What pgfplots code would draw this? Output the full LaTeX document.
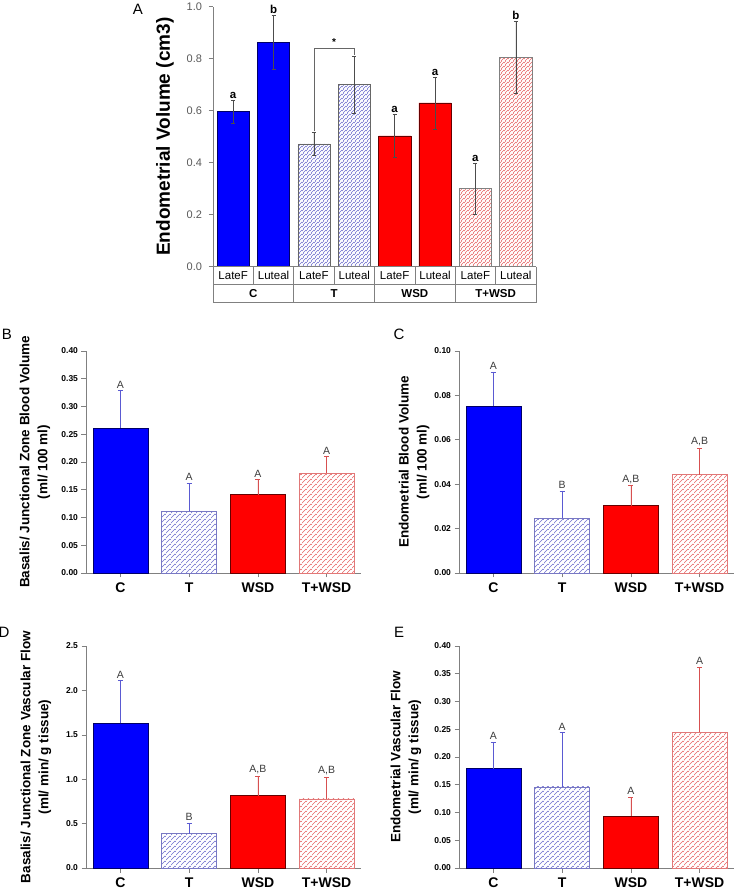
\documentclass[border=0pt]{standalone}
\usepackage{fontspec}
\setmainfont{Liberation Sans}
\usepackage{pgfplots}
\pgfplotsset{compat=1.18}
\usetikzlibrary{patterns.meta}

\definecolor{cblue}{RGB}{0,0,255}
\definecolor{cred}{RGB}{255,0,0}
\definecolor{tline}{RGB}{110,110,205}
\definecolor{tedge}{RGB}{120,120,195}
\definecolor{pline}{RGB}{230,100,100}
\definecolor{pedge}{RGB}{225,120,120}
\definecolor{axgray}{RGB}{128,128,128}
\definecolor{ebblue}{RGB}{90,90,210}
\definecolor{ebred}{RGB}{215,80,80}
\definecolor{lettgray}{RGB}{60,60,60}

% colored hatch patterns (lines going up to the right)
\pgfdeclarepattern{
  name=thatchbig, type=colored,
  bottom left={\pgfpoint{0pt}{0pt}}, top right={\pgfpoint{5.4pt}{5.4pt}},
  tile size={\pgfpoint{5.4pt}{5.4pt}},
  code={\pgfsetcolor{tline}\pgfsetlinewidth{0.6pt}
    \pgfpathmoveto{\pgfpoint{-1pt}{-1pt}}\pgfpathlineto{\pgfpoint{6.4pt}{6.4pt}}
    \pgfpathmoveto{\pgfpoint{-1pt}{4.4pt}}\pgfpathlineto{\pgfpoint{1pt}{6.4pt}}
    \pgfpathmoveto{\pgfpoint{4.4pt}{-1pt}}\pgfpathlineto{\pgfpoint{6.4pt}{1pt}}
    \pgfusepath{stroke}}
}
\pgfdeclarepattern{
  name=phatchbig, type=colored,
  bottom left={\pgfpoint{0pt}{0pt}}, top right={\pgfpoint{5.4pt}{5.4pt}},
  tile size={\pgfpoint{5.4pt}{5.4pt}},
  code={\pgfsetcolor{pline}\pgfsetlinewidth{0.6pt}
    \pgfpathmoveto{\pgfpoint{-1pt}{-1pt}}\pgfpathlineto{\pgfpoint{6.4pt}{6.4pt}}
    \pgfpathmoveto{\pgfpoint{-1pt}{4.4pt}}\pgfpathlineto{\pgfpoint{1pt}{6.4pt}}
    \pgfpathmoveto{\pgfpoint{4.4pt}{-1pt}}\pgfpathlineto{\pgfpoint{6.4pt}{1pt}}
    \pgfusepath{stroke}}
}
\pgfdeclarepattern{
  name=thatchsmall, type=colored,
  bottom left={\pgfpoint{0pt}{0pt}}, top right={\pgfpoint{3.6pt}{3.6pt}},
  tile size={\pgfpoint{3.6pt}{3.6pt}},
  code={\pgfsetcolor{tline}\pgfsetlinewidth{0.6pt}
    \pgfpathmoveto{\pgfpoint{-1pt}{-1pt}}\pgfpathlineto{\pgfpoint{4.6pt}{4.6pt}}
    \pgfpathmoveto{\pgfpoint{-1pt}{2.6pt}}\pgfpathlineto{\pgfpoint{1pt}{4.6pt}}
    \pgfpathmoveto{\pgfpoint{2.6pt}{-1pt}}\pgfpathlineto{\pgfpoint{4.6pt}{1pt}}
    \pgfusepath{stroke}}
}
\pgfdeclarepattern{
  name=phatchsmall, type=colored,
  bottom left={\pgfpoint{0pt}{0pt}}, top right={\pgfpoint{3.6pt}{3.6pt}},
  tile size={\pgfpoint{3.6pt}{3.6pt}},
  code={\pgfsetcolor{pline}\pgfsetlinewidth{0.6pt}
    \pgfpathmoveto{\pgfpoint{-1pt}{-1pt}}\pgfpathlineto{\pgfpoint{4.6pt}{4.6pt}}
    \pgfpathmoveto{\pgfpoint{-1pt}{2.6pt}}\pgfpathlineto{\pgfpoint{1pt}{4.6pt}}
    \pgfpathmoveto{\pgfpoint{2.6pt}{-1pt}}\pgfpathlineto{\pgfpoint{4.6pt}{1pt}}
    \pgfusepath{stroke}}
}

\pgfplotstableread{
x y e
0 0.597 0.044
1 0.864 0.104
}\Ac
\pgfplotstableread{
x y e
2 0.472 0.043
3 0.700 0.110
}\At
\pgfplotstableread{
x y e
4 0.503 0.083
5 0.630 0.100
}\Aw
\pgfplotstableread{
x y e
6 0.300 0.098
7 0.805 0.137
}\Atw
\pgfplotstableread{
x y l
0 0.641 a
1 0.968 b
4 0.586 a
5 0.730 a
6 0.398 a
7 0.942 b
}\Alet

% panel B
\pgfplotstableread{
x y e
0 0.261 0.068
1 0.111 0.051
2 0.141 0.027
3 0.180 0.030
}\Bdat
\pgfplotstableread{
x y l
0 0.329 A
1 0.162 A
2 0.168 A
3 0.210 A
}\Blet
% panel C
\pgfplotstableread{
x y e
0 0.0752 0.0154
1 0.0246 0.0124
2 0.0304 0.0089
3 0.0443 0.0120
}\Cdat
\pgfplotstableread{
x y l
0 0.0906 A
1 0.0370 B
2 0.0393 A,B
3 0.0563 A,B
}\Clet
% panel D
\pgfplotstableread{
x y e
0 1.628 0.481
1 0.387 0.121
2 0.816 0.218
3 0.778 0.248
}\Ddat
\pgfplotstableread{
x y l
0 2.109 A
1 0.508 B
2 1.034 A,B
3 1.026 A,B
}\Dlet
% panel E
\pgfplotstableread{
x y e
0 0.179 0.048
1 0.146 0.098
2 0.094 0.034
3 0.245 0.117
}\Edat
\pgfplotstableread{
x y l
0 0.227 A
1 0.244 A
2 0.128 A
3 0.362 A
}\Elet

\pgfplotsset{
  smallpanel/.style={
    scale only axis, width=275pt, height=222pt,
    xmin=-0.5, xmax=3.5, ymin=0,
    axis lines*=left,
    axis line style={axgray, line width=0.8pt},
    tick style={axgray, line width=0.6pt},
    tick align=outside, major tick length=4.5pt,
    xtick={0,1,2,3}, xticklabels={C,T,WSD,T+WSD},
    xticklabel style={font=\fontsize{14}{16}\selectfont\bfseries, yshift=-2pt},
    yticklabel style={font=\fontsize{8.5}{10}\selectfont\bfseries},
    ylabel style={font=\fontsize{13.5}{18}\selectfont\bfseries, align=center, anchor=center},
    ybar, bar width=0.8, clip=false,
    /pgf/number format/fixed, /pgf/number format/fixed zerofill,
    /pgf/number format/assume math mode=true,
  },
  lettplot/.style={sharp plot, draw=none, nodes near coords, point meta=explicit symbolic,
    nodes near coords style={anchor=south, font=\fontsize{10.5}{12}\selectfont, text=lettgray, inner sep=2pt}},
}

\newcommand{\smallbars}[1]{%
  \addplot[bar shift=0pt, fill=cblue, draw=blue!40!black, line width=0.5pt,
    restrict x to domain=-0.1:0.1,
    error bars/.cd, y dir=plus, y explicit,
    error bar style={ebblue, line width=0.7pt}, error mark options={rotate=90, ebblue, mark size=2.5pt, line width=0.7pt}]
    table[x=x, y=y, y error=e] {#1};
  \addplot[bar shift=0pt, pattern=thatchbig, draw=tedge, line width=0.6pt,
    restrict x to domain=0.9:1.1,
    error bars/.cd, y dir=plus, y explicit,
    error bar style={ebblue, line width=0.7pt}, error mark options={rotate=90, ebblue, mark size=2.5pt, line width=0.7pt}]
    table[x=x, y=y, y error=e] {#1};
  \addplot[bar shift=0pt, fill=cred, draw=red!40!black, line width=0.5pt,
    restrict x to domain=1.9:2.1,
    error bars/.cd, y dir=plus, y explicit,
    error bar style={ebred, line width=0.7pt}, error mark options={rotate=90, ebred, mark size=2.5pt, line width=0.7pt}]
    table[x=x, y=y, y error=e] {#1};
  \addplot[bar shift=0pt, pattern=phatchbig, draw=pedge, line width=0.6pt,
    restrict x to domain=2.9:3.1,
    error bars/.cd, y dir=plus, y explicit,
    error bar style={ebred, line width=0.7pt}, error mark options={rotate=90, ebred, mark size=2.5pt, line width=0.7pt}]
    table[x=x, y=y, y error=e] {#1};
}

\begin{document}
\begin{tikzpicture}
\useasboundingbox (0,0) rectangle (737pt,891pt);

% ---------------- Panel A ----------------
\begin{axis}[
  at={(213pt,624.3pt)}, anchor=south west,
  scale only axis, width=323pt, height=260pt,
  xmin=-0.5, xmax=7.5, ymin=0, ymax=1.0,
  axis x line=none, axis y line*=left,
  axis line style={axgray, line width=0.8pt},
  tick style={axgray, line width=0.6pt},
  tick align=outside, major tick length=4.5pt,
  ytick={0,0.2,0.4,0.6,0.8,1.0},
  yticklabel style={font=\fontsize{11}{13}\selectfont, text=black!65, xshift=-3pt},
  /pgf/number format/fixed, /pgf/number format/fixed zerofill,
  /pgf/number format/precision=1, /pgf/number format/assume math mode=true,
  ylabel={Endometrial Volume (cm3)},
  ylabel style={font=\fontsize{19}{22}\selectfont\bfseries, at={(axis description cs:-0.149,0.5)}, anchor=center},
  ybar, bar width=0.8, clip=false,
]
\addplot[bar shift=0pt, fill=cblue, draw=blue!40!black, line width=0.5pt,
  error bars/.cd, y dir=both, y explicit,
  error bar style={black!70, line width=0.6pt}, error mark options={rotate=90, black!70, mark size=2pt, line width=0.6pt}]
  table[x=x, y=y, y error=e] {\Ac};
\addplot[bar shift=0pt, pattern=thatchsmall, draw=black!60, line width=0.5pt,
  error bars/.cd, y dir=both, y explicit,
  error bar style={black!70, line width=0.6pt}, error mark options={rotate=90, black!70, mark size=2pt, line width=0.6pt}]
  table[x=x, y=y, y error=e] {\At};
\addplot[bar shift=0pt, fill=cred, draw=red!40!black, line width=0.5pt,
  error bars/.cd, y dir=both, y explicit,
  error bar style={black!70, line width=0.6pt}, error mark options={rotate=90, black!70, mark size=2pt, line width=0.6pt}]
  table[x=x, y=y, y error=e] {\Aw};
\addplot[bar shift=0pt, pattern=phatchsmall, draw=black!50, line width=0.5pt,
  error bars/.cd, y dir=both, y explicit,
  error bar style={black!70, line width=0.6pt}, error mark options={rotate=90, black!70, mark size=2pt, line width=0.6pt}]
  table[x=x, y=y, y error=e] {\Atw};
\addplot[sharp plot, draw=none, nodes near coords, point meta=explicit symbolic,
  nodes near coords style={anchor=south, font=\fontsize{11.5}{13}\selectfont\bfseries, inner sep=1.5pt}]
  table[x=x, y=y, meta=l] {\Alet};
% bracket
\draw[black!60, line width=0.6pt] (axis cs:2,0.52) -- (axis cs:2,0.84) -- (axis cs:3,0.84) -- (axis cs:3,0.815);
\node[font=\fontsize{10}{12}\selectfont\bfseries] at (axis cs:2.5,0.865) {*};
% category table
\draw[axgray, line width=0.7pt] (axis cs:-0.5,0) -- (axis cs:7.5,0);
\draw[axgray, line width=0.7pt] (axis cs:-0.5,-0.069) -- (axis cs:7.5,-0.069);
\draw[axgray, line width=0.7pt] (axis cs:-0.5,-0.138) -- (axis cs:7.5,-0.138);
\pgfplotsinvokeforeach{-0.5,0.5,1.5,2.5,3.5,4.5,5.5,6.5,7.5}{
  \draw[axgray, line width=0.7pt] (axis cs:#1,0) -- (axis cs:#1,-0.069);
}
\pgfplotsinvokeforeach{-0.5,1.5,3.5,5.5,7.5}{
  \draw[axgray, line width=0.7pt] (axis cs:#1,-0.069) -- (axis cs:#1,-0.138);
}
\pgfplotsinvokeforeach{0,2,4,6}{
  \node[font=\fontsize{11.5}{13}\selectfont] at (axis cs:#1,-0.0345) {LateF};
}
\pgfplotsinvokeforeach{1,3,5,7}{
  \node[font=\fontsize{11.5}{13}\selectfont] at (axis cs:#1,-0.0345) {Luteal};
}
\node[font=\fontsize{11.5}{13}\selectfont\bfseries] at (axis cs:0.5,-0.1035) {C};
\node[font=\fontsize{11.5}{13}\selectfont\bfseries] at (axis cs:2.5,-0.1035) {T};
\node[font=\fontsize{11.5}{13}\selectfont\bfseries] at (axis cs:4.5,-0.1035) {WSD};
\node[font=\fontsize{11.5}{13}\selectfont\bfseries] at (axis cs:6.5,-0.1035) {T+WSD};
\end{axis}
\node[font=\fontsize{15}{17}\selectfont] at (138pt,882pt) {A};

% ---------------- Panel B ----------------
\begin{axis}[smallpanel, at={(86pt,318pt)}, anchor=south west,
  ymax=0.40, ytick={0,0.05,0.10,0.15,0.20,0.25,0.30,0.35,0.40},
  /pgf/number format/precision=2,
  ylabel={Basalis/ Junctional Zone Blood Volume\\(ml/ 100 ml)},
  ylabel style={at={(axis description cs:-0.1855,0.5)}},
]
\smallbars{\Bdat}
\addplot[lettplot] table[x=x, y=y, meta=l] {\Blet};
\end{axis}
\node[font=\fontsize{15}{17}\selectfont] at (7pt,557pt) {B};

% ---------------- Panel C ----------------
\begin{axis}[smallpanel, at={(459pt,318pt)}, anchor=south west,
  ymax=0.10, ytick={0,0.02,0.04,0.06,0.08,0.10},
  /pgf/number format/precision=2,
  ylabel={Endometrial Blood Volume\\(ml/ 100 ml)},
  ylabel style={at={(axis description cs:-0.1636,0.5)}},
]
\smallbars{\Cdat}
\addplot[lettplot] table[x=x, y=y, meta=l] {\Clet};
\end{axis}
\node[font=\fontsize{15}{17}\selectfont] at (399pt,557pt) {C};

% ---------------- Panel D ----------------
\begin{axis}[smallpanel, at={(86pt,23pt)}, anchor=south west,
  ymax=2.5, ytick={0,0.5,1.0,1.5,2.0,2.5},
  /pgf/number format/precision=1,
  ylabel={Basalis/ Junctional Zone Vascular Flow\\(ml/ min/ g tissue)},
  ylabel style={at={(axis description cs:-0.182,0.5)}},
]
\smallbars{\Ddat}
\addplot[lettplot] table[x=x, y=y, meta=l] {\Dlet};
\end{axis}
\node[font=\fontsize{15}{17}\selectfont] at (4pt,259pt) {D};

% ---------------- Panel E ----------------
\begin{axis}[smallpanel, at={(459pt,23pt)}, anchor=south west,
  ymax=0.40, ytick={0,0.05,0.10,0.15,0.20,0.25,0.30,0.35,0.40},
  /pgf/number format/precision=2,
  ylabel={Endometrial Vascular Flow\\(ml/ min/ g tissue)},
  ylabel style={at={(axis description cs:-0.193,0.5)}},
]
\smallbars{\Edat}
\addplot[lettplot] table[x=x, y=y, meta=l] {\Elet};
\end{axis}
\node[font=\fontsize{15}{17}\selectfont] at (399pt,259pt) {E};

\end{tikzpicture}
\end{document}
